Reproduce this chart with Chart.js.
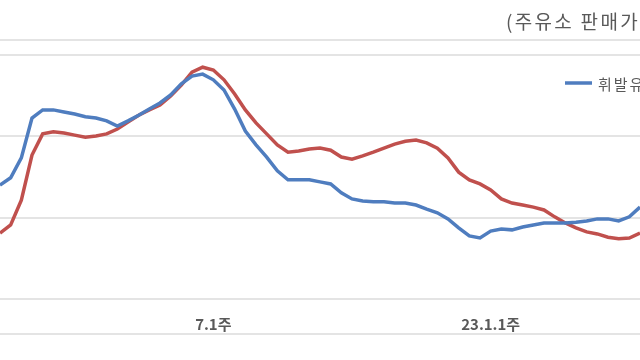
<!DOCTYPE html>
<html>
<head>
<meta charset="utf-8">
<script src="https://cdn.jsdelivr.net/npm/chart.js@4.4.0/dist/chart.umd.min.js"></script>
<style>
  body { margin: 0; background: #fff; }
</style>
</head>
<body>
<canvas id="myChart" width="640" height="360"></canvas>
<script>
// weekly labels, 2022.2 ~ 2023.4
const weeks = [
  "2.3주", "2.4주", "3.1주", "3.2주", "3.3주", "3.4주", "3.5주", "4.1주", "4.2주", "4.3주",
  "4.4주", "5.1주", "5.2주", "5.3주", "5.4주", "6.1주", "6.2주", "6.3주", "6.4주", "6.5주",
  "7.1주", "7.2주", "7.3주", "7.4주", "8.1주", "8.2주", "8.3주", "8.4주", "9.1주", "9.2주",
  "9.3주", "9.4주", "9.5주", "10.1주", "10.2주", "10.3주", "10.4주", "11.1주", "11.2주", "11.3주",
  "11.4주", "12.1주", "12.2주", "12.3주", "12.4주", "12.5주", "23.1.1주", "23.1.2주", "23.1.3주", "23.1.4주",
  "23.2.1주", "23.2.2주", "23.2.3주", "23.2.4주", "23.3.1주", "23.3.2주", "23.3.3주", "23.3.4주", "23.3.5주", "23.4.1주",
  "23.4.2주",
];
const shownTicks = ["7.1주", "23.1.1주"];

const gasoline = [
  1880, 1898, 1947, 2045, 2065, 2065, 2060, 2055, 2048, 2045,
  2038, 2025, 2038, 2052, 2067, 2082, 2102, 2129, 2148, 2153,
  2139, 2114, 2067, 2013, 1979, 1949, 1915, 1893, 1893, 1893,
  1888, 1883, 1861, 1846, 1841, 1839, 1839, 1836, 1836, 1831,
  1821, 1812, 1797, 1775, 1755, 1750, 1767, 1772, 1770, 1777,
  1782, 1787, 1787, 1787, 1789, 1792, 1797, 1797, 1792, 1802,
  1826,
];
const diesel = [
  1762, 1782, 1843, 1954, 2006, 2011, 2008, 2003, 1998, 2001,
  2006, 2018, 2035, 2052, 2065, 2077, 2099, 2126, 2158, 2170,
  2163, 2139, 2104, 2065, 2033, 2006, 1979, 1961, 1964, 1969,
  1971, 1966, 1949, 1944, 1952, 1961, 1971, 1981, 1988, 1991,
  1984, 1971, 1947, 1912, 1893, 1883, 1868, 1846, 1836, 1831,
  1826, 1819, 1802, 1787, 1775, 1765, 1760, 1752, 1748, 1750,
  1762,
];
const seriesNames = ["휘발유", "경유"];
const unitText = "(주유소 판매가격, 원/리터)";

const textColor = "#595959";
const gridColor = "#e4e4e4";

// frame lines, unit text and legend sitting inside the plot
const decor = {
  id: "decor",
  afterDraw(chart) {
    const ctx = chart.ctx;
    ctx.save();
    ctx.strokeStyle = gridColor;
    ctx.lineWidth = 2;
    [40, 334].forEach((y) => {
      ctx.beginPath();
      ctx.moveTo(0, y);
      ctx.lineTo(640, y);
      ctx.stroke();
    });

    ctx.fillStyle = textColor;
    ctx.font = "19px 'Noto Sans CJK KR'";
    ctx.letterSpacing = "2.3px";
    ctx.textBaseline = "middle";
    ctx.textAlign = "left";
    ctx.fillText(unitText, 506, 22);

    ctx.letterSpacing = "2px";
    let x = 565;
    chart.data.datasets.forEach((ds) => {
      ctx.strokeStyle = ds.borderColor;
      ctx.lineWidth = 3.5;
      ctx.beginPath();
      ctx.moveTo(x, 83);
      ctx.lineTo(x + 27, 83);
      ctx.stroke();
      ctx.fillStyle = textColor;
      ctx.font = "15px 'Noto Sans CJK KR'";
      ctx.fillText(ds.label, x + 33, 84);
      x += 33 + ctx.measureText(ds.label).width + 20;
    });
    ctx.restore();
  },
};

const ctx = document.getElementById("myChart").getContext("2d");
const myChart = new Chart(ctx, {
  type: "line",
  data: {
    labels: weeks,
    datasets: [
      {
        label: seriesNames[0],
        data: gasoline,
        borderColor: "#4f7dbf",
        borderWidth: 3.5,
        pointRadius: 0,
        tension: 0,
      },
      {
        label: seriesNames[1],
        data: diesel,
        borderColor: "#c0504d",
        borderWidth: 3.5,
        pointRadius: 0,
        tension: 0,
      },
    ],
  },
  options: {
    responsive: false,
    animation: false,
    layout: { padding: { top: 55, left: 0, right: 0, bottom: 0 } },
    plugins: {
      legend: { display: false },
      tooltip: { enabled: false },
    },
    scales: {
      x: {
        offset: false,
        grid: { display: false, drawTicks: false },
        border: { display: false },
        ticks: {
          autoSkip: false,
          maxRotation: 0,
          padding: 16,
          color: textColor,
          font: { family: "'Noto Sans CJK KR'", size: 15, weight: "bold" },
          callback: (value) => (shownTicks.includes(weeks[value]) ? weeks[value] : ""),
        },
        afterFit: (scale) => {
          scale.height = 61;
          scale.paddingLeft = 0;
          scale.paddingRight = 0;
        },
      },
      y: {
        min: 1600,
        max: 2200,
        ticks: { display: false, stepSize: 200 },
        grid: { color: gridColor, lineWidth: 2, drawTicks: false },
        border: { display: false },
        afterFit: (scale) => {
          scale.width = 0;
        },
      },
    },
  },
  plugins: [decor],
});
</script>
</body>
</html>
